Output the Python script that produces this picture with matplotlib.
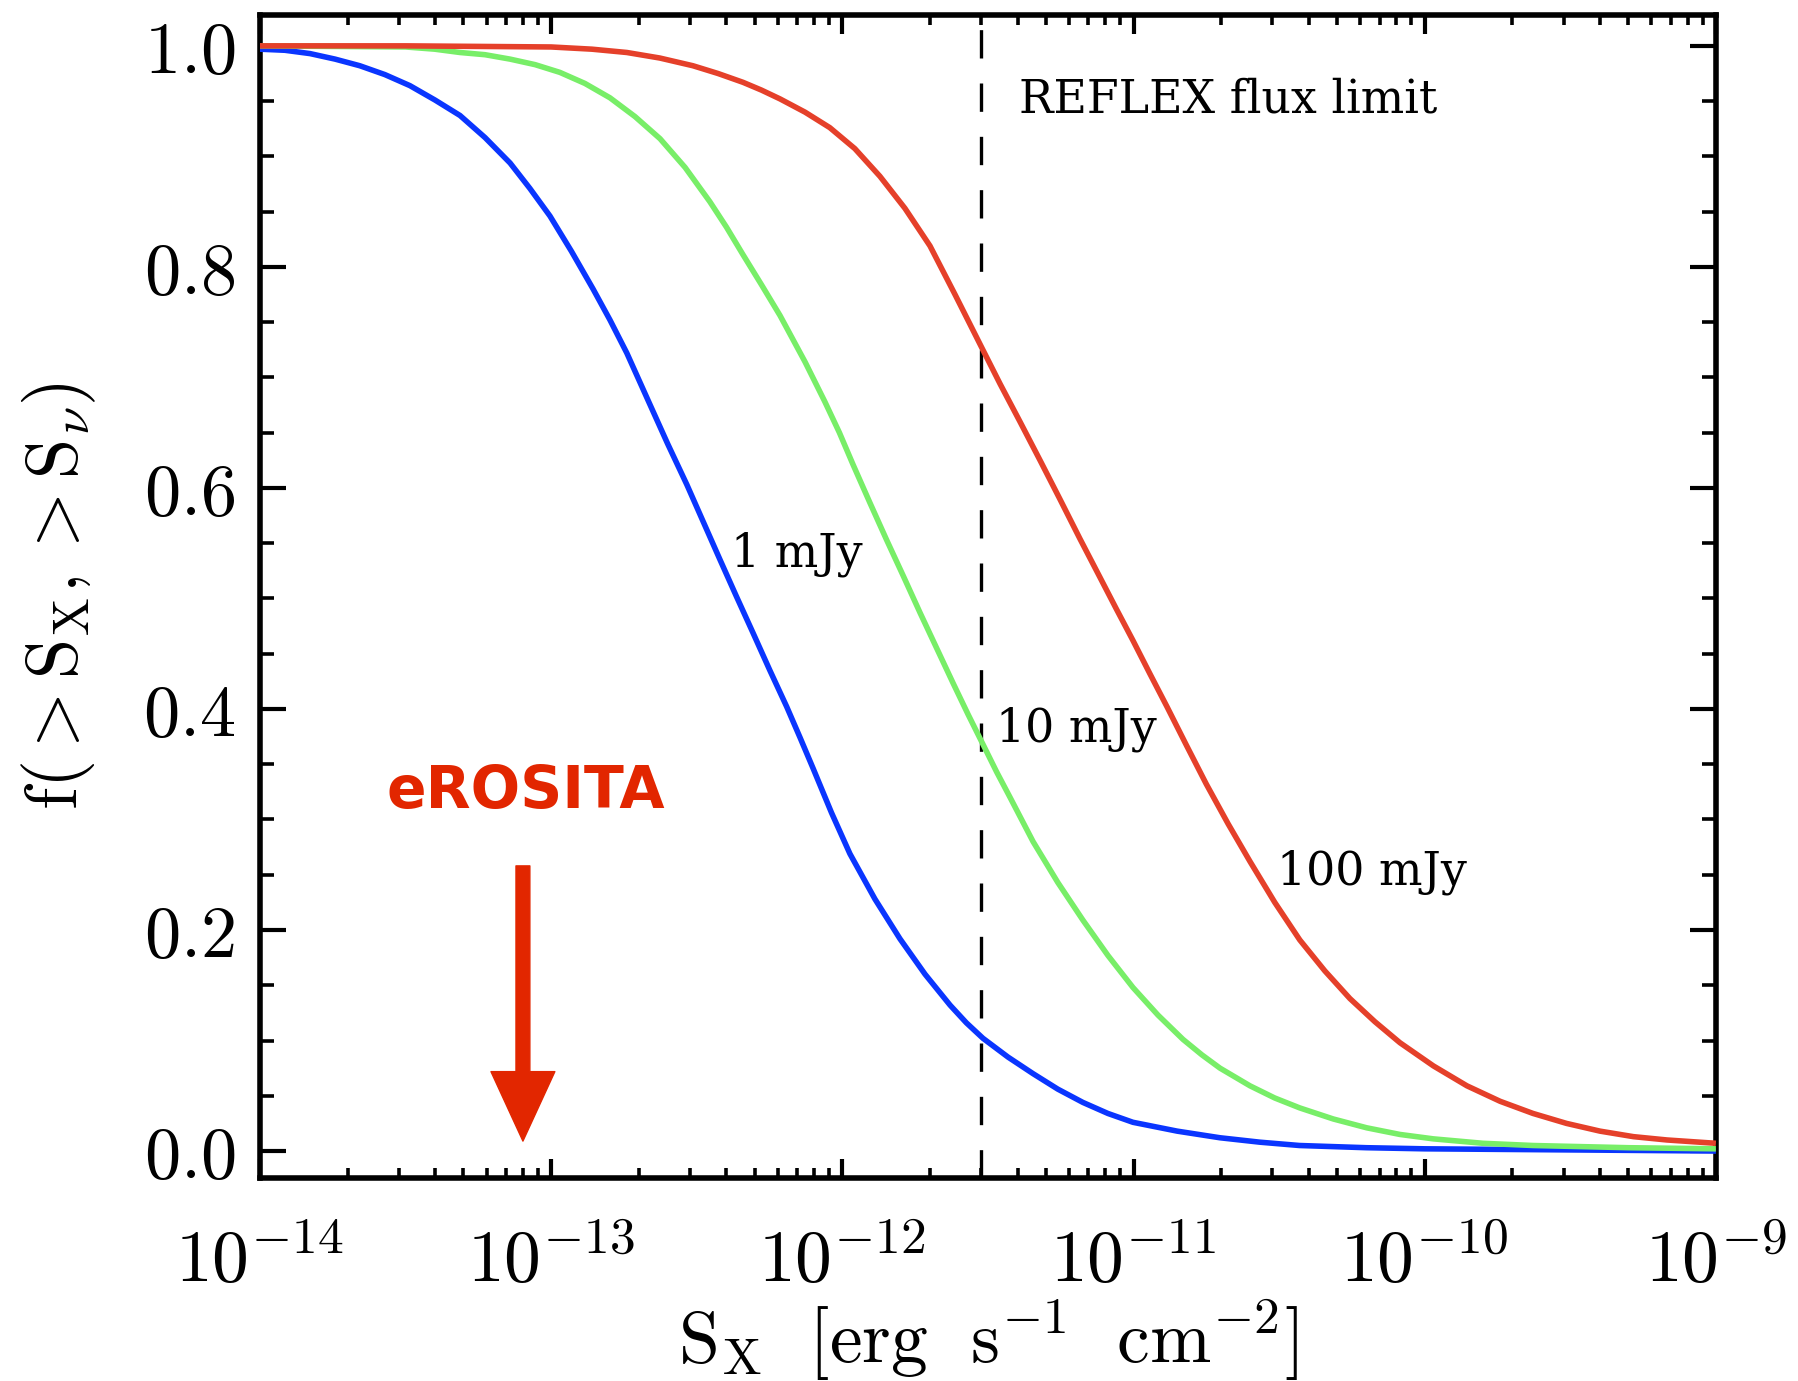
import numpy as np
import matplotlib
matplotlib.use("Agg")
import matplotlib.pyplot as plt
from matplotlib.patches import FancyArrowPatch
from matplotlib.ticker import FixedLocator, FuncFormatter, NullFormatter

plt.rcParams["mathtext.fontset"] = "cm"

# log10 of X-ray flux limit [erg s^-1 cm^-2] and fraction of radio sources
logS_1mJy = [-14.000, -13.914, -13.828, -13.742, -13.657, -13.571, -13.485, -13.399,
             -13.313, -13.227, -13.141, -13.073, -13.004, -12.930, -12.856, -12.798,
             -12.740, -12.665, -12.600, -12.534, -12.477, -12.420, -12.364, -12.307,
             -12.249, -12.191, -12.145, -12.100, -12.037, -11.974, -11.888, -11.802,
             -11.716, -11.630, -11.574, -11.517, -11.431, -11.345, -11.260, -11.174,
             -11.088, -11.002, -10.850, -10.703, -10.566, -10.430, -10.200, -10.000,
             -9.500, -9.000]
f_1mJy = [0.997, 0.996, 0.993, 0.988, 0.982, 0.974, 0.964, 0.951,
          0.937, 0.917, 0.894, 0.871, 0.846, 0.814, 0.780, 0.752,
          0.722, 0.678, 0.640, 0.603, 0.569, 0.535, 0.502, 0.469,
          0.435, 0.402, 0.374, 0.346, 0.306, 0.269, 0.228, 0.192,
          0.160, 0.132, 0.116, 0.102, 0.085, 0.070, 0.056, 0.044,
          0.034, 0.026, 0.018, 0.012, 0.008, 0.005, 0.003, 0.002,
          0.001, 0.000]

logS_10mJy = [-14.000, -13.500, -13.400, -13.313, -13.227, -13.141, -13.055, -12.970,
              -12.884, -12.798, -12.712, -12.626, -12.540, -12.455, -12.398, -12.341,
              -12.278, -12.214, -12.128, -12.060, -12.010, -11.963, -11.906, -11.848,
              -11.790, -11.733, -11.676, -11.619, -11.568, -11.517, -11.470, -11.424,
              -11.345, -11.260, -11.174, -11.088, -11.002, -10.916, -10.830, -10.765,
              -10.703, -10.600, -10.515, -10.429, -10.314, -10.199, -10.085, -9.970,
              -9.800, -9.628, -9.300, -9.000]
f_10mJy = [1.000, 0.999, 0.997, 0.994, 0.992, 0.988, 0.983, 0.976,
           0.966, 0.953, 0.936, 0.916, 0.890, 0.859, 0.836, 0.811,
           0.784, 0.756, 0.714, 0.678, 0.650, 0.621, 0.587, 0.553,
           0.520, 0.487, 0.455, 0.423, 0.395, 0.368, 0.343, 0.320,
           0.280, 0.243, 0.209, 0.177, 0.148, 0.123, 0.101, 0.087,
           0.075, 0.059, 0.048, 0.039, 0.029, 0.021, 0.015, 0.011,
           0.007, 0.005, 0.003, 0.002]

logS_100mJy = [-14.000, -13.500, -13.000, -12.860, -12.740, -12.627, -12.513, -12.427,
               -12.341, -12.278, -12.214, -12.128, -12.043, -11.957, -11.871, -11.785,
               -11.699, -11.613, -11.527, -11.458, -11.390, -11.321, -11.253, -11.184,
               -11.115, -11.058, -11.002, -10.944, -10.885, -10.818, -10.750, -10.675,
               -10.600, -10.515, -10.429, -10.343, -10.257, -10.171, -10.085, -9.970,
               -9.855, -9.741, -9.628, -9.513, -9.398, -9.283, -9.168, -9.000]
f_100mJy = [1.000, 1.000, 0.999, 0.997, 0.994, 0.989, 0.982, 0.975,
            0.967, 0.960, 0.952, 0.940, 0.926, 0.907, 0.882, 0.853,
            0.819, 0.775, 0.730, 0.694, 0.660, 0.625, 0.590, 0.554,
            0.519, 0.490, 0.462, 0.432, 0.402, 0.367, 0.332, 0.296,
            0.262, 0.225, 0.191, 0.163, 0.138, 0.117, 0.098, 0.077,
            0.059, 0.045, 0.034, 0.025, 0.018, 0.013, 0.010, 0.007]

reflex_limit = 3e-12
erosita_limit = 8e-14

x_decades = [-14, -13, -12, -11, -10, -9]
y_major = [0.0, 0.2, 0.4, 0.6, 0.8, 1.0]

curves = [
    (logS_1mJy, f_1mJy, "#0a35ff"),
    (logS_10mJy, f_10mJy, "#78ee68"),
    (logS_100mJy, f_100mJy, "#e5402a"),
]

fig = plt.figure(figsize=(17.99, 13.81), dpi=100)
ax = fig.add_axes([0.1445, 0.1470, 0.8093, 0.8422])

for logs, frac, col in curves:
    ax.plot(10.0 ** np.asarray(logs), frac, color=col, lw=4.0,
            solid_joinstyle="round", solid_capstyle="butt", zorder=3)

ax.axvline(reflex_limit, color="black", lw=2.4, dashes=(8.5, 7.5), zorder=2)

ax.set_xscale("log")
ax.set_xlim(1e-14, 1e-9)
ax.set_ylim(-0.0244, 1.028)

# Axis frame and ticks on all four sides
for sp in ax.spines.values():
    sp.set_linewidth(4.0)
ax.yaxis.set_major_locator(FixedLocator(y_major))
ax.yaxis.set_minor_locator(FixedLocator(np.arange(0.0, 1.0001, 0.05)))
ax.yaxis.set_major_formatter(FuncFormatter(lambda v, p: r"$%.1f$" % v))

major_x = [10.0 ** d for d in x_decades]
minor_x = [k * 10.0 ** d for d in x_decades[:-1] for k in range(2, 10)]
ax.xaxis.set_major_locator(FixedLocator(major_x))
ax.xaxis.set_minor_locator(FixedLocator(minor_x))
ax.xaxis.set_minor_formatter(NullFormatter())
ax.xaxis.set_major_formatter(FuncFormatter(lambda v, p: r"$10^{%d}$" % round(np.log10(v))))

ax.tick_params(axis="both", which="both", direction="in", top=True, right=True)
ax.tick_params(axis="y", which="major", length=19, width=3.0, labelsize=52, pad=18)
ax.tick_params(axis="y", which="minor", length=10, width=2.6)
ax.tick_params(axis="x", which="major", length=14, width=3.0, labelsize=53, pad=34)
ax.tick_params(axis="x", which="minor", length=7, width=2.6)

ax.set_xlabel(r"$\mathrm{S_X}\ \ [{\rm erg\ \ s^{-1}\ \ cm^{-2}}]$", fontsize=53, labelpad=0)
ax.set_ylabel(r"$\mathrm{f}(>\mathrm{S_X},>\mathrm{S}_{\nu})$", fontsize=52, labelpad=32)

# Curve and line annotations
label_font = dict(fontsize=33, family="DejaVu Serif", ha="left", va="center")
ax.text(4.05e-12, 0.951, "REFLEX flux limit", **label_font)
ax.text(10 ** -12.383, 0.540, "1 mJy", **label_font)
ax.text(10 ** -11.473, 0.382, "10 mJy", **label_font)
ax.text(10 ** -10.508, 0.252, "100 mJy", **label_font)

erosita_red = "#e22600"
ax.text(erosita_limit * 1.02, 0.325, "eROSITA", fontsize=42, color=erosita_red,
        fontweight="bold", family="DejaVu Sans", ha="center", va="center")
arrow = FancyArrowPatch((erosita_limit, 0.258), (erosita_limit, 0.009),
                        arrowstyle="simple, head_width=46, head_length=50, tail_width=10",
                        mutation_scale=1, color=erosita_red, shrinkA=0, shrinkB=0,
                        zorder=4)
ax.add_patch(arrow)

fig.savefig("out.png", dpi=100)
